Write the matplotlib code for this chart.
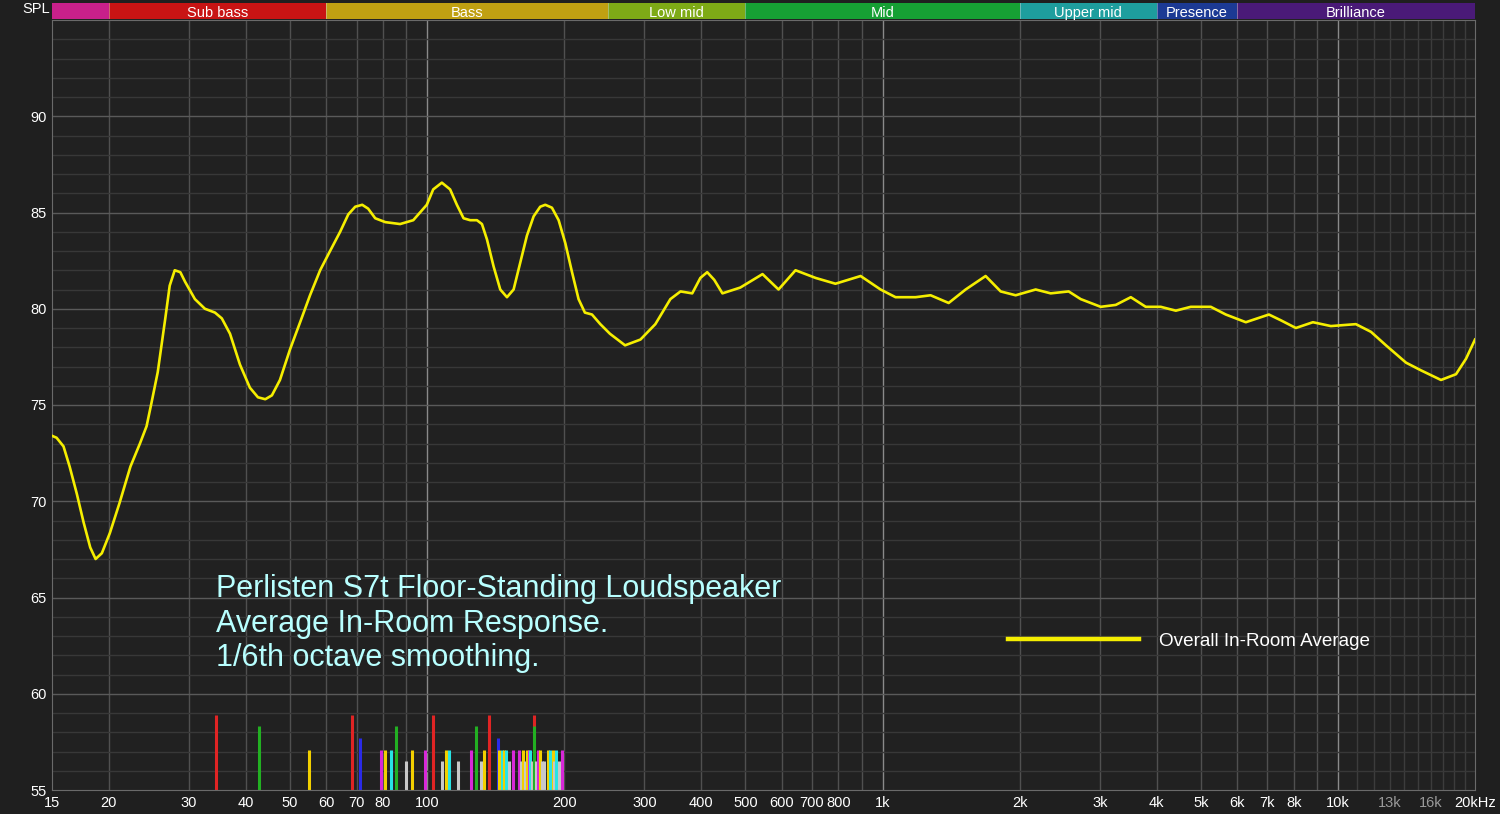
import numpy as np
import matplotlib.pyplot as plt
from matplotlib.ticker import FixedLocator, NullFormatter

plt.rcParams['font.family'] = ['Liberation Sans', 'DejaVu Sans']

# overall in-room average (1/6 octave)
freq = [15, 15.35, 15.9, 16.4, 17.0, 17.6, 18.2, 18.7, 19.3, 20.1, 21.1, 22.3, 23.4, 24.2,
        24.8, 25.6, 26.6, 27.2, 27.9, 28.7, 29.4, 30.9, 32.5, 34.2, 35.4, 36.9, 38.8, 40.8,
        42.5, 44.1, 45.6, 47.5, 50.0, 52.6, 55.3, 58.2, 61.2, 64.4, 67.1, 69.5, 72.0, 74.2,
        76.9, 80.9, 87.2, 93.2, 99.8, 103.1, 107.7, 112.3, 116.2, 120.2, 124.3, 128.6, 131.9,
        135.3, 139.9, 144.7, 149.7, 154.8, 160.1, 165.6, 171.3, 177.1, 181.7, 187.9, 194.4,
        201.1, 208.0, 215.0, 222, 230.1, 240, 252, 272, 294, 317, 342, 360, 382, 398, 412, 427,
        445, 487, 545, 591, 644, 713, 788, 895, 990, 1068, 1182, 1275, 1397, 1522, 1684, 1817,
        1960, 2169, 2340, 2563, 2724, 3014, 3252, 3509, 3784, 4083, 4406, 4752, 5258, 5673,
        6277, 7054, 7493, 8084, 8812, 9650, 10950, 11820, 12750, 14110, 15220, 16840, 18170,
        19110, 20000]
spl = [73.4, 73.3, 72.85, 71.8, 70.4, 68.9, 67.6, 67.0, 67.3, 68.35, 69.9, 71.8, 73.0, 73.9,
       75.1, 76.7, 79.5, 81.2, 82.0, 81.9, 81.4, 80.5, 80.0, 79.8, 79.5, 78.7, 77.1, 75.9,
       75.4, 75.3, 75.5, 76.3, 77.9, 79.3, 80.7, 82.0, 83.0, 84.0, 84.9, 85.3, 85.4, 85.2,
       84.7, 84.5, 84.4, 84.6, 85.4, 86.2, 86.55, 86.2, 85.4, 84.7, 84.6, 84.6, 84.4,
       83.6, 82.2, 81.0, 80.6, 81.0, 82.4, 83.8, 84.8, 85.3, 85.4, 85.25, 84.6,
       83.4, 81.9, 80.5, 79.8, 79.7, 79.2, 78.7, 78.1, 78.4, 79.2, 80.5, 80.9, 80.8, 81.6, 81.9, 81.5,
       80.8, 81.1, 81.8, 81.0, 82.0, 81.6, 81.3, 81.7, 81.0, 80.6, 80.6, 80.7, 80.3, 81.0, 81.7, 80.9,
       80.7, 81.0, 80.8, 80.9, 80.5, 80.1, 80.2, 80.6, 80.1, 80.1, 79.9, 80.1, 80.1, 79.7,
       79.3, 79.7, 79.4, 79.0, 79.3, 79.1, 79.2, 78.8, 78.1, 77.2, 76.8, 76.3, 76.6,
       77.4, 78.4]

# room mode markers
mode_freq = [34.3, 42.8, 55, 68.5, 71.2, 79.2, 80.8, 83.2, 85.6, 90, 92.4, 99, 102.9, 107.7,
             109.9, 111.4, 116.8, 125.1, 128.3, 131.2, 133.2, 137, 142.9, 144.1, 146.2, 147.6,
             149.1, 151.6, 154.7, 158.7, 160.6, 162, 164.2, 165.6, 167, 168.4, 170.2, 171.3,
             171.3, 173.1, 174.9, 176.5, 178.3, 180.4, 184.4, 186.5, 188.9, 190.3, 192.2, 195.2, 198.1]
mode_kind = ['r', 'g', 'y', 'r', 'b', 'm', 'y', 'c', 'g', 'w', 'y', 'm', 'r', 'w',
             'y', 'c', 'w', 'm', 'g', 'w', 'y', 'r', 'b', 'y', 'c', 'y',
             'c', 'w', 'm', 'm', 'w', 'y', 'w', 'y', 'm', 'c', 'w', 'r',
             'g', 'w', 'm', 'y', 'w', 'w', 'y', 'c', 'y', 'w', 'c', 'w', 'm']
mode_top = {'r': 58.9, 'g': 58.3, 'b': 57.7, 'y': 57.1, 'm': 57.1, 'c': 57.1, 'w': 56.5}
mode_col = {'r': '#e02424', 'g': '#22b022', 'b': '#2a2ae8', 'y': '#f2d000',
            'm': '#d828d8', 'c': '#28e4e4', 'w': '#c8c8c8'}

# frequency bands on top
band_edges = [15, 20, 60, 250, 500, 2000, 4000, 6000, 20000]
band_names = ['', 'Sub bass', 'Bass', 'Low mid', 'Mid', 'Upper mid', 'Presence', 'Brilliance']
band_cols = ['#c8208a', '#c81414', '#c0a012', '#7eaa16', '#16a034', '#1e9e9e', '#1c3a94', '#4a1a78']

xticks = [15, 20, 30, 40, 50, 60, 70, 80, 100, 200, 300, 400, 500, 600, 700, 800, 1000,
          2000, 3000, 4000, 5000, 6000, 7000, 8000, 10000, 13000, 16000, 20000]
xlabels = ['15', '20', '30', '40', '50', '60', '70', '80', '100', '200', '300', '400', '500',
           '600', '700', '800', '1k', '2k', '3k', '4k', '5k', '6k', '7k', '8k', '10k',
           '13k', '16k', '20kHz']

bg = '#1f1f1f'
fig = plt.figure(figsize=(15, 8.14), dpi=100, facecolor=bg)
L, R = 52 / 1500, 1475 / 1500
B, T = 1 - 790 / 814, 1 - 20 / 814
ax = fig.add_axes([L, B, R - L, T - B], facecolor='#212121')
ax.set_xscale('log')
ax.set_xlim(15, 20000)
ax.set_ylim(55, 95)

# grid
minor_v = [f * d for d in (10, 100, 1000) for f in range(2, 10)] + list(range(11000, 20000, 1000))
for f in minor_v:
    if f in (100, 1000, 10000):
        continue
    c = '#3c3c3c' if f > 10000 else '#505050'
    ax.axvline(f, color=c, lw=1, zorder=1)
for f in (100, 1000, 10000):
    ax.axvline(f, color='#8a8a8a', lw=1, zorder=1)
for v in range(56, 95):
    ax.axhline(v, color='#5a5a5a' if v % 5 == 0 else '#383838', lw=1, zorder=1)

for f, k in zip(mode_freq, mode_kind):
    ax.vlines(f, 55, mode_top[k], color=mode_col[k], lw=2.2, zorder=2)

ax.plot(freq, spl, color='#f5ee00', lw=1.9, zorder=3, label='Overall In-Room Average',
        solid_joinstyle='round')

ax.xaxis.set_major_locator(FixedLocator(xticks))
ax.xaxis.set_minor_formatter(NullFormatter())
ax.xaxis.set_minor_locator(FixedLocator([]))
ax.set_xticklabels(xlabels)
ax.set_yticks(range(55, 95, 5))
ax.tick_params(colors='white', labelsize=10.5, length=0, pad=4)
for lab, t in zip(ax.get_xticklabels(), xlabels):
    if t in ('13k', '16k'):
        lab.set_color('#9a9a9a')
for s in ax.spines.values():
    s.set_color('#6a6a6a')

fig.text(22 / 1500, 1 - 9 / 814, 'SPL', color='white', fontsize=10.5, va='center')

ax.text(0.115, 0.2805, 'Perlisten S7t Floor-Standing Loudspeaker\nAverage In-Room Response.\n1/6th octave smoothing.',
        transform=ax.transAxes, color='#b8ffff', fontsize=22, linespacing=1.2, va='top', zorder=4)

leg = ax.legend(loc='center left', bbox_to_anchor=(0.66, 0.1935), frameon=False,
                handlelength=6.9, handletextpad=1.1, fontsize=13.6, labelcolor='white')
leg.get_lines()[0].set_linewidth(3.2)

# band bar
bax = fig.add_axes([L, 1 - 19 / 814, R - L, 16 / 814], facecolor=bg)
bax.set_xscale('log')
bax.set_xlim(15, 20000)
bax.set_ylim(0, 1)
for i, name in enumerate(band_names):
    lo, hi = band_edges[i], band_edges[i + 1]
    bax.axvspan(lo, hi, color=band_cols[i], lw=0)
    bax.axvline(hi, color='#dddddd', lw=0.6, alpha=0.5)
    if name:
        bax.text(np.sqrt(lo * hi), 0.4, name, color='white', fontsize=10.5, ha='center', va='center')
bax.set_xticks([])
bax.set_yticks([])
bax.minorticks_off()
for s in bax.spines.values():
    s.set_visible(False)

fig.savefig('out.png', dpi=100, facecolor=bg)
